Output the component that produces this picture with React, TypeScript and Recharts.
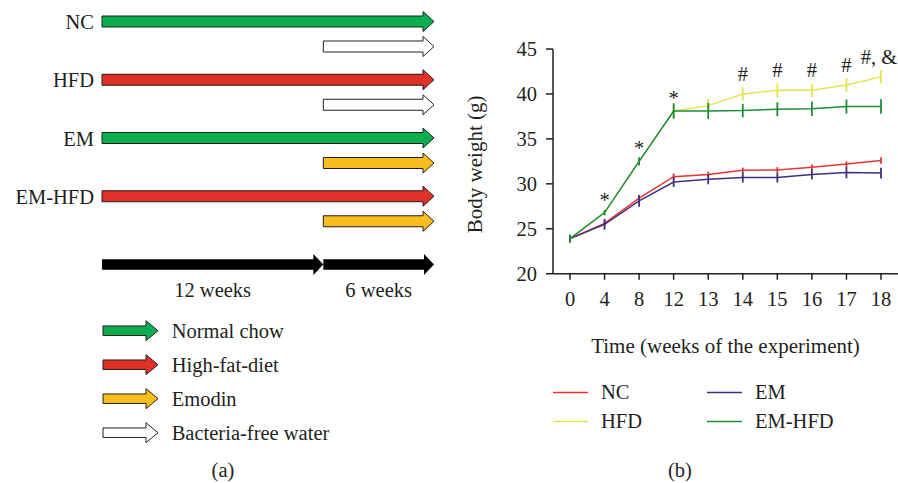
import React from 'react';
import {
  BarChart,
  Bar,
  XAxis,
  YAxis,
  LineChart,
  Line,
  ErrorBar,
  LabelList,
  Legend,
  Label,
} from 'recharts';

const FONT = '"Liberation Serif", "Times New Roman", serif';
const INK = '#231f20';

// ---- panel (a): feeding schedule ----
const groups = ['NC', 'HFD', 'EM', 'EM-HFD'];
const dietOf = ['Normal chow', 'High-fat-diet', 'Normal chow', 'High-fat-diet'];
const drinkOf = ['Bacteria-free water', 'Bacteria-free water', 'Emodin', 'Emodin'];
const dietWeeks = [0, 18];
const drinkWeeks = [12, 18];
const phaseWeeks = [12, 6];
const phaseLabels = ['12 weeks', '6 weeks'];
const treatments = ['Normal chow', 'High-fat-diet', 'Emodin', 'Bacteria-free water'];

const TREATMENT_COLORS: Record<string, string> = {
  'Normal chow': '#0bae4f',
  'High-fat-diet': '#e03127',
  Emodin: '#f9bd1e',
  'Bacteria-free water': '#ffffff',
};

// ---- panel (b): body weight ----
const weeks = ['0', '4', '8', '12', '13', '14', '15', '16', '17', '18'];
const nc = [23.9, 25.6, 28.4, 30.8, 31.05, 31.5, 31.55, 31.85, 32.2, 32.6];
const ncErr = [0.4, 0.35, 0.35, 0.35, 0.3, 0.3, 0.3, 0.3, 0.3, 0.37];
const hfd = [23.9, 26.8, 32.5, 38.1, 38.7, 40.0, 40.4, 40.4, 41.0, 41.9];
const hfdErr = [0.45, 0.3, 0.45, 0.85, 0.75, 0.75, 0.78, 0.75, 0.75, 0.75];
const em = [23.9, 25.5, 28.1, 30.2, 30.5, 30.7, 30.7, 31.05, 31.25, 31.2];
const emErr = [0.4, 0.6, 0.65, 0.55, 0.55, 0.55, 0.55, 0.55, 0.65, 0.6];
const emHfd = [23.9, 26.8, 32.5, 38.1, 38.1, 38.15, 38.3, 38.35, 38.6, 38.6];
const emHfdErr = [0.45, 0.3, 0.45, 0.85, 0.9, 0.75, 0.78, 0.8, 0.78, 0.8];
const emHfdMarks = ['', '*', '*', '*', '', '', '', '', '', ''];
const hfdMarks = ['', '', '', '', '', '#', '#', '#', '#', '#, &'];

const SERIES = [
  { key: 'nc', name: 'NC', color: '#e8352f' },
  { key: 'hfd', name: 'HFD', color: '#e4e44e' },
  { key: 'em', name: 'EM', color: '#40307e' },
  { key: 'emHfd', name: 'EM-HFD', color: '#1c8d3b' },
];

const scheduleData = groups.map((g, i) => ({
  group: g,
  diet: dietWeeks,
  drink: drinkWeeks,
  dietName: dietOf[i],
  drinkName: drinkOf[i],
}));

const phaseData = [
  { name: 'time', p0: phaseWeeks[0], p1: phaseWeeks[1], l0: phaseLabels[0], l1: phaseLabels[1] },
];

const weightData = weeks.map((w, i) => ({
  week: w,
  nc: nc[i],
  ncErr: ncErr[i],
  hfd: hfd[i],
  hfdErr: hfdErr[i],
  em: em[i],
  emErr: emErr[i],
  emHfd: emHfd[i],
  emHfdErr: emHfdErr[i],
  hfdMark: hfdMarks[i],
  emHfdMark: emHfdMarks[i],
}));

function arrowPath(x: number, cy: number, len: number, shaft: number, head: number, tip: number) {
  const hx = x + len - tip;
  return `M${x},${cy - shaft / 2}H${hx}V${cy - head / 2}L${x + len},${cy}L${hx},${cy + head / 2}V${cy + shaft / 2}H${x}Z`;
}

const DietArrow = (props: any) => {
  const { x, y, width, height, payload } = props;
  return (
    <path
      d={arrowPath(x, y + height / 2, width, 11, 20, 11)}
      fill={TREATMENT_COLORS[payload.dietName]}
      stroke={INK}
      strokeWidth={1}
    />
  );
};

const DrinkArrow = (props: any) => {
  const { x, y, width, height, payload } = props;
  return (
    <path
      d={arrowPath(x, y + height / 2, width, 11, 20, 11)}
      fill={TREATMENT_COLORS[payload.drinkName]}
      stroke={INK}
      strokeWidth={1}
    />
  );
};

const PhaseArrow = (props: any) => {
  const { x, y, width, height } = props;
  return <path d={arrowPath(x, y + height / 2, width, 10.5, 21, 10)} fill="#000" />;
};

const GroupTick = (props: any) => {
  const { x, y, payload } = props;
  return (
    <text x={x} y={y - 12} textAnchor="end" dominantBaseline="central" fontSize={20.5} fontFamily={FONT} fill={INK}>
      {payload.value}
    </text>
  );
};

const renderMark = (props: any) => {
  const value = props.value;
  if (!value) return null;
  const px = props.x ?? props.viewBox?.x;
  const py = props.y ?? props.viewBox?.y;
  const star = value === '*';
  return (
    <text
      x={px - (value.length > 1 ? 2 : 0)}
      y={py - (star ? 13 : 20)}
      textAnchor="middle"
      dominantBaseline="central"
      fontSize={20.5}
      fontFamily={FONT}
      fill={INK}
    >
      {value}
    </text>
  );
};

const WeightLegend = (props: any) => {
  const order = SERIES.map((s) => s.name);
  const payload = [...(props.payload || [])].sort(
    (a: any, b: any) => order.indexOf(a.value) - order.indexOf(b.value)
  );
  return (
    <div
      style={{
        display: 'grid',
        gridTemplateColumns: '154px 154px',
        gridTemplateRows: '29px 29px',
        gridAutoFlow: 'column',
      }}
    >
      {payload.map((p: any) => (
        <div key={p.value} style={{ display: 'flex', alignItems: 'center' }}>
          <svg width={48} height={29}>
            <line x1={0} x2={35} y1={14.5} y2={14.5} stroke={p.color} strokeWidth={1.5} />
          </svg>
          <span style={{ fontFamily: FONT, fontSize: 20.5, color: INK, lineHeight: '29px' }}>{p.value}</span>
        </div>
      ))}
    </div>
  );
};

const axisStyle = { stroke: INK, strokeWidth: 1.5 };
const tickFont = { fontSize: 20.5, fontFamily: FONT, fill: INK };

export default function App() {
  return (
    <div style={{ position: 'absolute', left: 0, top: 0, width: 898, height: 483, background: '#fff', overflow: 'hidden' }}>
      {/* (a) schedule */}
      <div style={{ position: 'absolute', left: 0, top: 0 }}>
        <BarChart
          width={450}
          height={241}
          layout="vertical"
          data={scheduleData}
          margin={{ top: 5, right: 16, bottom: 3, left: 0 }}
          barGap={0}
          barSize={25}
        >
          <XAxis type="number" domain={[0, 18]} hide />
          <YAxis type="category" dataKey="group" width={102} axisLine={false} tickLine={false} tick={<GroupTick />} />
          <Bar dataKey="diet" shape={<DietArrow />} isAnimationActive={false} />
          <Bar dataKey="drink" shape={<DrinkArrow />} isAnimationActive={false} />
        </BarChart>
      </div>
      <div style={{ position: 'absolute', left: 0, top: 240 }}>
        <BarChart
          width={450}
          height={70}
          layout="vertical"
          data={phaseData}
          margin={{ top: 14, right: 16, bottom: 35, left: 102 }}
          barCategoryGap={0}
        >
          <XAxis type="number" domain={[0, 18]} hide />
          <YAxis type="category" dataKey="name" hide />
          <Bar dataKey="p0" stackId="phase" shape={<PhaseArrow />} isAnimationActive={false}>
            <LabelList dataKey="l0" position="bottom" offset={7} fontSize={20.5} fontFamily={FONT} fill={INK} />
          </Bar>
          <Bar dataKey="p1" stackId="phase" shape={<PhaseArrow />} isAnimationActive={false}>
            <LabelList dataKey="l1" position="bottom" offset={7} fontSize={20.5} fontFamily={FONT} fill={INK} />
          </Bar>
        </BarChart>
      </div>
      <svg style={{ position: 'absolute', left: 0, top: 310 }} width={450} height={173}>
        {treatments.map((t, i) => (
          <g key={t}>
            <path
              d={arrowPath(103, 20.7 + i * 34, 55, 9.5, 20, 12)}
              fill={TREATMENT_COLORS[t]}
              stroke={INK}
              strokeWidth={1}
            />
            <text x={171.7} y={20.7 + i * 34} dominantBaseline="central" fontSize={20.5} fontFamily={FONT} fill={INK}>
              {t}
            </text>
          </g>
        ))}
        <text x={223} y={160} textAnchor="middle" dominantBaseline="central" fontSize={20.5} fontFamily={FONT} fill={INK}>
          (a)
        </text>
      </svg>

      {/* (b) body weight */}
      <div style={{ position: 'absolute', left: 450, top: 0 }}>
        <LineChart width={448} height={483} data={weightData} margin={{ top: 49, right: 0, bottom: 149.3, left: 0 }}>
          <XAxis
            dataKey="week"
            height={60}
            padding={{ left: 17, right: 17 }}
            axisLine={axisStyle}
            tickLine={axisStyle}
            tickSize={6}
            tickMargin={12}
            tick={tickFont}
            interval={0}
          >
            <Label
              content={(p: any) => (
                <text
                  x={p.viewBox.x + p.viewBox.width / 2}
                  y={p.viewBox.y + 72}
                  textAnchor="middle"
                  dominantBaseline="central"
                  fontSize={21}
                  fontFamily={FONT}
                  fill={INK}
                >
                  Time (weeks of the experiment)
                </text>
              )}
            />
          </XAxis>
          <YAxis
            domain={[20, 45]}
            ticks={[20, 25, 30, 35, 40, 45]}
            width={103}
            axisLine={axisStyle}
            tickLine={axisStyle}
            tickSize={7}
            tickMargin={9}
            tick={tickFont}
          >
            <Label
              content={(p: any) => {
                const cx = p.viewBox.x + 25;
                const cy = p.viewBox.y + p.viewBox.height / 2 + 3;
                return (
                  <text
                    x={cx}
                    y={cy}
                    transform={`rotate(-90 ${cx} ${cy})`}
                    textAnchor="middle"
                    dominantBaseline="central"
                    fontSize={21}
                    fontFamily={FONT}
                    fill={INK}
                  >
                    Body weight (g)
                  </text>
                );
              }}
            />
          </YAxis>
          <Legend
            layout="horizontal"
            verticalAlign="middle"
            align="center"
            wrapperStyle={{ top: 378, left: 103, width: 320 }}
            content={<WeightLegend />}
          />
          {SERIES.map((s) => (
            <Line
              key={s.key}
              dataKey={s.key}
              name={s.name}
              stroke={s.color}
              strokeWidth={1.5}
              dot={false}
              isAnimationActive={false}
            >
              <ErrorBar dataKey={`${s.key}Err`} width={0} stroke={s.color} strokeWidth={1.8} direction="y" />
              {s.key === 'hfd' && <LabelList dataKey="hfdMark" content={renderMark} />}
              {s.key === 'emHfd' && <LabelList dataKey="emHfdMark" content={renderMark} />}
            </Line>
          ))}
        </LineChart>
      </div>
      <div
        style={{
          position: 'absolute',
          left: 630,
          top: 458,
          width: 100,
          textAlign: 'center',
          fontFamily: FONT,
          fontSize: 20.5,
          color: INK,
          lineHeight: '25px',
        }}
      >
        (b)
      </div>
    </div>
  );
}
